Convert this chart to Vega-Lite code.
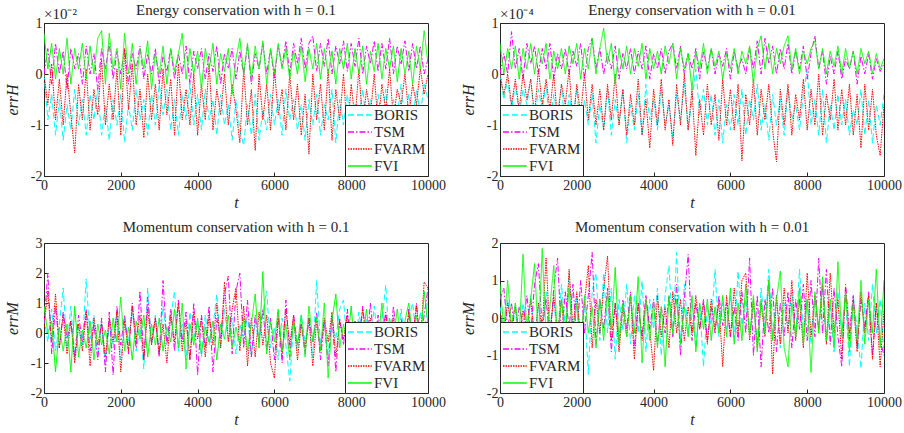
{
"$schema":"https://vega.github.io/schema/vega-lite/v6.json",
"padding":{"left":3,"top":2,"right":0,"bottom":0},
"background":"white",
"config":{
"view":{"stroke":"#262626","strokeWidth":1},
"font":"Liberation Serif, Times New Roman, serif",
"title":{"font":"Liberation Serif, Times New Roman, serif","fontSize":15,"fontWeight":"normal","color":"#262626","offset":4},
"axis":{"domain":false,"grid":false,"labelFont":"Liberation Serif, Times New Roman, serif","labelFontSize":14,"labelColor":"#262626","titleFont":"Liberation Serif, Times New Roman, serif","titleFontSize":16,"titleFontStyle":"italic","titleFontWeight":"normal","titleColor":"#262626","tickColor":"#262626","tickSize":-4},
"axisX":{"labelPadding":6,"labelFlush":false,"titlePadding":2},
"axisY":{"labelPadding":6,"titlePadding":10},
"legend":{"fillColor":"white","strokeColor":"#262626","padding":2,"symbolType":"M-1,0H2.4","symbolSize":196,"symbolStrokeWidth":1.5,"labelFont":"Liberation Serif, Times New Roman, serif","labelFontSize":15,"labelColor":"#262626","rowPadding":1,"labelOffset":11,"cornerRadius":0}
},
"datasets":{
"e1":[
{"t":0,"BORIS":0,"TSM":0,"FVARM":0,"FVI":0.8},
{"t":100,"BORIS":-0.9,"TSM":0.5,"FVARM":-0.6,"FVI":0.1},
{"t":200,"BORIS":-0.4,"TSM":-0.2,"FVARM":0.2,"FVI":0.6},
{"t":300,"BORIS":-1.2,"TSM":0.6,"FVARM":-0.9,"FVI":-0.1},
{"t":400,"BORIS":-0.5,"TSM":0.0,"FVARM":-0.1,"FVI":0.5},
{"t":500,"BORIS":-1.3,"TSM":0.45,"FVARM":-1.0,"FVI":0.0},
{"t":600,"BORIS":-0.6,"TSM":-0.3,"FVARM":0.0,"FVI":0.7},
{"t":700,"BORIS":-1.1,"TSM":0.5,"FVARM":-0.8,"FVI":-0.2},
{"t":800,"BORIS":-0.3,"TSM":0.1,"FVARM":-1.55,"FVI":0.5},
{"t":900,"BORIS":-1.0,"TSM":0.4,"FVARM":-0.2,"FVI":0.1},
{"t":1000,"BORIS":-0.5,"TSM":-0.2,"FVARM":-0.9,"FVI":0.6},
{"t":1100,"BORIS":-1.2,"TSM":0.55,"FVARM":0.1,"FVI":-0.1},
{"t":1200,"BORIS":-0.4,"TSM":0.0,"FVARM":-1.1,"FVI":0.55},
{"t":1300,"BORIS":-0.9,"TSM":0.4,"FVARM":-0.3,"FVI":0.0},
{"t":1400,"BORIS":-0.3,"TSM":-0.3,"FVARM":-0.8,"FVI":0.7},
{"t":1500,"BORIS":-1.2,"TSM":0.5,"FVARM":0.3,"FVI":0.85},
{"t":1600,"BORIS":-0.6,"TSM":0.1,"FVARM":-1.0,"FVI":-0.2},
{"t":1700,"BORIS":-1.3,"TSM":0.6,"FVARM":-0.2,"FVI":0.8},
{"t":1800,"BORIS":-0.5,"TSM":-0.1,"FVARM":-0.9,"FVI":0.1},
{"t":1900,"BORIS":-1.0,"TSM":0.45,"FVARM":0.1,"FVI":0.5},
{"t":2000,"BORIS":-0.4,"TSM":0.0,"FVARM":-1.2,"FVI":-0.3},
{"t":2100,"BORIS":-1.35,"TSM":0.5,"FVARM":0.5,"FVI":0.8},
{"t":2200,"BORIS":-0.6,"TSM":-0.2,"FVARM":-0.7,"FVI":0.0},
{"t":2300,"BORIS":-1.1,"TSM":0.4,"FVARM":0.2,"FVI":0.6},
{"t":2400,"BORIS":-0.3,"TSM":0.1,"FVARM":-1.0,"FVI":-0.2},
{"t":2500,"BORIS":-0.9,"TSM":0.55,"FVARM":-0.3,"FVI":0.5},
{"t":2600,"BORIS":-0.5,"TSM":-0.1,"FVARM":-1.25,"FVI":0.1},
{"t":2700,"BORIS":-1.2,"TSM":0.4,"FVARM":0.0,"FVI":0.65},
{"t":2800,"BORIS":-0.4,"TSM":0.0,"FVARM":-0.9,"FVI":-0.3},
{"t":2900,"BORIS":-1.0,"TSM":0.5,"FVARM":-0.2,"FVI":0.4},
{"t":3000,"BORIS":-0.2,"TSM":-0.2,"FVARM":-1.1,"FVI":0.0},
{"t":3100,"BORIS":-0.8,"TSM":0.35,"FVARM":0.1,"FVI":0.55},
{"t":3200,"BORIS":-0.3,"TSM":0.05,"FVARM":-0.8,"FVI":-0.2},
{"t":3300,"BORIS":-1.1,"TSM":0.5,"FVARM":-0.1,"FVI":0.5},
{"t":3400,"BORIS":-0.5,"TSM":-0.1,"FVARM":-1.2,"FVI":0.05},
{"t":3500,"BORIS":-1.2,"TSM":0.4,"FVARM":0.2,"FVI":0.4},
{"t":3600,"BORIS":-0.4,"TSM":0.0,"FVARM":-0.9,"FVI":0.8},
{"t":3700,"BORIS":-0.9,"TSM":0.55,"FVARM":-0.3,"FVI":-0.1},
{"t":3800,"BORIS":-0.2,"TSM":-0.2,"FVARM":-1.0,"FVI":0.5},
{"t":3900,"BORIS":-1.0,"TSM":0.45,"FVARM":0.0,"FVI":0.0},
{"t":4000,"BORIS":-0.4,"TSM":0.1,"FVARM":-1.2,"FVI":0.45},
{"t":4100,"BORIS":-1.1,"TSM":0.5,"FVARM":-0.2,"FVI":-0.3},
{"t":4200,"BORIS":-0.3,"TSM":-0.1,"FVARM":-0.9,"FVI":0.5},
{"t":4300,"BORIS":-0.9,"TSM":0.4,"FVARM":0.2,"FVI":0.1},
{"t":4400,"BORIS":-0.5,"TSM":0.05,"FVARM":-1.1,"FVI":0.6},
{"t":4500,"BORIS":-1.2,"TSM":0.55,"FVARM":-0.3,"FVI":-0.2},
{"t":4600,"BORIS":-0.4,"TSM":-0.2,"FVARM":-0.8,"FVI":0.4},
{"t":4700,"BORIS":-1.0,"TSM":0.4,"FVARM":0.0,"FVI":0.05},
{"t":4800,"BORIS":-0.6,"TSM":0.1,"FVARM":-1.0,"FVI":0.5},
{"t":4900,"BORIS":-1.3,"TSM":0.5,"FVARM":-0.2,"FVI":-0.4},
{"t":5000,"BORIS":-0.5,"TSM":-0.1,"FVARM":-0.7,"FVI":0.3},
{"t":5100,"BORIS":-1.1,"TSM":0.45,"FVARM":-1.35,"FVI":0.7},
{"t":5200,"BORIS":-1.4,"TSM":0.0,"FVARM":0.1,"FVI":0.0},
{"t":5300,"BORIS":-0.6,"TSM":0.55,"FVARM":-1.0,"FVI":0.6},
{"t":5400,"BORIS":-1.2,"TSM":-0.2,"FVARM":-0.3,"FVI":-0.1},
{"t":5500,"BORIS":-0.4,"TSM":0.4,"FVARM":-1.5,"FVI":0.55},
{"t":5600,"BORIS":-1.3,"TSM":0.1,"FVARM":0.0,"FVI":0.1},
{"t":5700,"BORIS":-0.7,"TSM":0.6,"FVARM":-0.9,"FVI":0.65},
{"t":5800,"BORIS":-1.1,"TSM":0.0,"FVARM":-0.2,"FVI":-0.2},
{"t":5900,"BORIS":-0.4,"TSM":0.5,"FVARM":-1.1,"FVI":0.5},
{"t":6000,"BORIS":-1.0,"TSM":-0.1,"FVARM":0.1,"FVI":0.0},
{"t":6100,"BORIS":-0.5,"TSM":0.55,"FVARM":-0.8,"FVI":0.6},
{"t":6200,"BORIS":-1.2,"TSM":0.15,"FVARM":-0.3,"FVI":0.1},
{"t":6300,"BORIS":-0.3,"TSM":0.65,"FVARM":-1.1,"FVI":0.5},
{"t":6400,"BORIS":-0.9,"TSM":0.0,"FVARM":0.0,"FVI":-0.1},
{"t":6500,"BORIS":-0.5,"TSM":0.6,"FVARM":-0.9,"FVI":0.45},
{"t":6600,"BORIS":-1.1,"TSM":0.2,"FVARM":-0.2,"FVI":0.0},
{"t":6700,"BORIS":-0.6,"TSM":0.7,"FVARM":-1.2,"FVI":0.55},
{"t":6800,"BORIS":-1.3,"TSM":0.1,"FVARM":-0.4,"FVI":-0.15},
{"t":6900,"BORIS":-0.5,"TSM":0.6,"FVARM":-1.57,"FVI":0.5},
{"t":7000,"BORIS":-1.0,"TSM":0.75,"FVARM":0.0,"FVI":0.1},
{"t":7100,"BORIS":-0.4,"TSM":0.05,"FVARM":-0.9,"FVI":0.6},
{"t":7200,"BORIS":-1.2,"TSM":0.6,"FVARM":-0.2,"FVI":-0.1},
{"t":7300,"BORIS":-0.6,"TSM":0.15,"FVARM":-1.1,"FVI":0.5},
{"t":7400,"BORIS":-0.9,"TSM":0.7,"FVARM":0.1,"FVI":0.0},
{"t":7500,"BORIS":-0.3,"TSM":0.0,"FVARM":-1.3,"FVI":0.45},
{"t":7600,"BORIS":-1.35,"TSM":0.55,"FVARM":-0.3,"FVI":-0.2},
{"t":7700,"BORIS":-0.5,"TSM":0.2,"FVARM":-0.9,"FVI":0.5},
{"t":7800,"BORIS":-1.0,"TSM":0.65,"FVARM":0.0,"FVI":0.1},
{"t":7900,"BORIS":-0.4,"TSM":0.05,"FVARM":-1.2,"FVI":0.6},
{"t":8000,"BORIS":-1.1,"TSM":0.6,"FVARM":-0.2,"FVI":-0.1},
{"t":8100,"BORIS":-0.6,"TSM":0.15,"FVARM":-0.9,"FVI":0.5},
{"t":8200,"BORIS":-0.9,"TSM":0.7,"FVARM":0.1,"FVI":0.0},
{"t":8300,"BORIS":-0.3,"TSM":0.0,"FVARM":-1.0,"FVI":0.55},
{"t":8400,"BORIS":-1.0,"TSM":0.55,"FVARM":-0.3,"FVI":-0.2},
{"t":8500,"BORIS":-0.5,"TSM":0.2,"FVARM":-0.8,"FVI":0.45},
{"t":8600,"BORIS":-1.2,"TSM":0.65,"FVARM":0.0,"FVI":0.05},
{"t":8700,"BORIS":-0.4,"TSM":0.05,"FVARM":-1.0,"FVI":0.6},
{"t":8800,"BORIS":-0.9,"TSM":0.6,"FVARM":-0.2,"FVI":-0.1},
{"t":8900,"BORIS":-0.3,"TSM":0.1,"FVARM":-0.7,"FVI":0.5},
{"t":9000,"BORIS":-1.1,"TSM":0.7,"FVARM":0.1,"FVI":0.1},
{"t":9100,"BORIS":-0.5,"TSM":0.0,"FVARM":-0.9,"FVI":0.55},
{"t":9200,"BORIS":-0.8,"TSM":0.55,"FVARM":-0.3,"FVI":-0.15},
{"t":9300,"BORIS":-0.2,"TSM":0.2,"FVARM":-0.6,"FVI":0.5},
{"t":9400,"BORIS":-1.0,"TSM":0.65,"FVARM":0.0,"FVI":0.0},
{"t":9500,"BORIS":-0.4,"TSM":0.05,"FVARM":-0.8,"FVI":0.45},
{"t":9600,"BORIS":-0.9,"TSM":0.6,"FVARM":-0.2,"FVI":-0.2},
{"t":9700,"BORIS":-0.3,"TSM":0.1,"FVARM":-0.6,"FVI":0.55},
{"t":9800,"BORIS":-0.8,"TSM":0.55,"FVARM":0.1,"FVI":0.1},
{"t":9900,"BORIS":-0.2,"TSM":0.0,"FVARM":-0.4,"FVI":0.85},
{"t":10000,"BORIS":-0.5,"TSM":0.3,"FVARM":0.0,"FVI":0.2}
],
"e2":[
{"t":0,"BORIS":0,"TSM":0,"FVARM":0,"FVI":0.6},
{"t":100,"BORIS":-0.5,"TSM":0.4,"FVARM":-0.4,"FVI":0.0},
{"t":200,"BORIS":-0.1,"TSM":0.0,"FVARM":0.0,"FVI":0.5},
{"t":300,"BORIS":-0.7,"TSM":0.83,"FVARM":-0.6,"FVI":0.1},
{"t":400,"BORIS":-0.2,"TSM":0.1,"FVARM":-0.1,"FVI":0.55},
{"t":500,"BORIS":-0.8,"TSM":0.5,"FVARM":-0.7,"FVI":-0.1},
{"t":600,"BORIS":-0.3,"TSM":-0.1,"FVARM":0.0,"FVI":0.5},
{"t":700,"BORIS":-0.6,"TSM":0.6,"FVARM":-0.5,"FVI":0.1},
{"t":800,"BORIS":-0.1,"TSM":0.2,"FVARM":-0.1,"FVI":0.6},
{"t":900,"BORIS":-0.9,"TSM":0.55,"FVARM":-0.8,"FVI":0.0},
{"t":1000,"BORIS":-0.3,"TSM":0.0,"FVARM":0.1,"FVI":0.5},
{"t":1100,"BORIS":-0.7,"TSM":0.5,"FVARM":-0.6,"FVI":0.2},
{"t":1200,"BORIS":-0.2,"TSM":0.1,"FVARM":-0.1,"FVI":0.6},
{"t":1300,"BORIS":-1.0,"TSM":0.6,"FVARM":-0.7,"FVI":-0.1},
{"t":1400,"BORIS":-0.4,"TSM":-0.1,"FVARM":0.0,"FVI":0.45},
{"t":1500,"BORIS":-0.8,"TSM":0.4,"FVARM":-0.9,"FVI":0.1},
{"t":1600,"BORIS":-0.2,"TSM":0.1,"FVARM":-0.2,"FVI":0.5},
{"t":1700,"BORIS":-1.1,"TSM":0.5,"FVARM":-0.6,"FVI":0.0},
{"t":1800,"BORIS":-0.4,"TSM":0.0,"FVARM":0.1,"FVI":0.55},
{"t":1900,"BORIS":-0.9,"TSM":0.45,"FVARM":-1.0,"FVI":0.2},
{"t":2000,"BORIS":-0.3,"TSM":0.15,"FVARM":-0.2,"FVI":0.6},
{"t":2100,"BORIS":-1.2,"TSM":0.6,"FVARM":-0.8,"FVI":-0.1},
{"t":2200,"BORIS":-0.5,"TSM":-0.1,"FVARM":0.0,"FVI":0.5},
{"t":2300,"BORIS":-1.0,"TSM":0.5,"FVARM":-0.9,"FVI":0.1},
{"t":2400,"BORIS":-0.4,"TSM":0.7,"FVARM":-0.2,"FVI":0.7},
{"t":2500,"BORIS":-1.35,"TSM":0.1,"FVARM":-1.0,"FVI":0.0},
{"t":2600,"BORIS":-0.6,"TSM":0.5,"FVARM":-0.3,"FVI":0.5},
{"t":2700,"BORIS":-1.1,"TSM":0.0,"FVARM":-1.1,"FVI":0.9},
{"t":2800,"BORIS":-0.3,"TSM":0.4,"FVARM":-0.2,"FVI":0.2},
{"t":2900,"BORIS":-1.2,"TSM":0.1,"FVARM":-0.9,"FVI":0.6},
{"t":3000,"BORIS":-0.5,"TSM":0.55,"FVARM":0.0,"FVI":-0.2},
{"t":3100,"BORIS":-1.0,"TSM":-0.1,"FVARM":-1.0,"FVI":0.5},
{"t":3200,"BORIS":-0.3,"TSM":0.4,"FVARM":-0.3,"FVI":0.1},
{"t":3300,"BORIS":-1.35,"TSM":0.1,"FVARM":-1.2,"FVI":0.55},
{"t":3400,"BORIS":-0.6,"TSM":0.5,"FVARM":-0.4,"FVI":0.0},
{"t":3500,"BORIS":-1.1,"TSM":0.0,"FVARM":-1.0,"FVI":0.5},
{"t":3600,"BORIS":-0.4,"TSM":0.45,"FVARM":-0.1,"FVI":0.15},
{"t":3700,"BORIS":-1.2,"TSM":0.1,"FVARM":-1.2,"FVI":0.6},
{"t":3800,"BORIS":-0.2,"TSM":0.55,"FVARM":-0.5,"FVI":-0.1},
{"t":3900,"BORIS":-0.9,"TSM":-0.1,"FVARM":-1.45,"FVI":0.5},
{"t":4000,"BORIS":-0.5,"TSM":0.4,"FVARM":-0.3,"FVI":0.1},
{"t":4100,"BORIS":-1.1,"TSM":0.1,"FVARM":-1.0,"FVI":0.45},
{"t":4200,"BORIS":-0.3,"TSM":0.5,"FVARM":-0.1,"FVI":0.0},
{"t":4300,"BORIS":-1.0,"TSM":0.0,"FVARM":-1.1,"FVI":0.55},
{"t":4400,"BORIS":-0.6,"TSM":0.45,"FVARM":-0.5,"FVI":0.2},
{"t":4500,"BORIS":-1.25,"TSM":0.6,"FVARM":-1.4,"FVI":0.6},
{"t":4600,"BORIS":-0.4,"TSM":0.1,"FVARM":-0.2,"FVI":-0.1},
{"t":4700,"BORIS":-0.9,"TSM":0.55,"FVARM":-1.0,"FVI":0.5},
{"t":4800,"BORIS":-0.2,"TSM":0.0,"FVARM":0.0,"FVI":0.1},
{"t":4900,"BORIS":-1.1,"TSM":0.4,"FVARM":-1.1,"FVI":0.4},
{"t":5000,"BORIS":-0.5,"TSM":0.1,"FVARM":-0.3,"FVI":-0.3},
{"t":5100,"BORIS":0.1,"TSM":0.5,"FVARM":-1.6,"FVI":0.45},
{"t":5200,"BORIS":-0.8,"TSM":-0.1,"FVARM":-0.5,"FVI":0.1},
{"t":5300,"BORIS":-0.3,"TSM":0.45,"FVARM":-1.2,"FVI":0.6},
{"t":5400,"BORIS":-1.0,"TSM":0.1,"FVARM":-0.2,"FVI":0.0},
{"t":5500,"BORIS":-0.4,"TSM":0.5,"FVARM":-1.0,"FVI":0.5},
{"t":5600,"BORIS":-1.2,"TSM":0.0,"FVARM":-0.4,"FVI":0.15},
{"t":5700,"BORIS":-0.5,"TSM":0.4,"FVARM":-1.3,"FVI":0.45},
{"t":5800,"BORIS":-1.35,"TSM":0.15,"FVARM":-0.1,"FVI":-0.1},
{"t":5900,"BORIS":-0.6,"TSM":0.5,"FVARM":-1.0,"FVI":0.4},
{"t":6000,"BORIS":-1.1,"TSM":-0.1,"FVARM":-0.3,"FVI":0.1},
{"t":6100,"BORIS":-0.4,"TSM":0.45,"FVARM":-1.1,"FVI":0.5},
{"t":6200,"BORIS":-1.0,"TSM":0.1,"FVARM":-0.2,"FVI":0.0},
{"t":6300,"BORIS":-0.3,"TSM":0.3,"FVARM":-1.7,"FVI":0.45},
{"t":6400,"BORIS":-1.2,"TSM":0.0,"FVARM":-0.4,"FVI":0.2},
{"t":6500,"BORIS":-0.5,"TSM":0.5,"FVARM":-1.0,"FVI":0.55},
{"t":6600,"BORIS":-0.9,"TSM":0.1,"FVARM":-0.1,"FVI":-0.2},
{"t":6700,"BORIS":-0.2,"TSM":0.65,"FVARM":-1.2,"FVI":0.5},
{"t":6800,"BORIS":-1.1,"TSM":0.0,"FVARM":-0.3,"FVI":0.75},
{"t":6900,"BORIS":-0.6,"TSM":0.7,"FVARM":-0.9,"FVI":0.1},
{"t":7000,"BORIS":-1.3,"TSM":0.2,"FVARM":-0.2,"FVI":0.6},
{"t":7100,"BORIS":-0.4,"TSM":0.55,"FVARM":-1.1,"FVI":0.0},
{"t":7200,"BORIS":-1.0,"TSM":0.0,"FVARM":-1.72,"FVI":0.5},
{"t":7300,"BORIS":-0.5,"TSM":0.5,"FVARM":-0.3,"FVI":0.2},
{"t":7400,"BORIS":-1.2,"TSM":0.1,"FVARM":-1.0,"FVI":0.55},
{"t":7500,"BORIS":-0.3,"TSM":0.6,"FVARM":-0.2,"FVI":0.75},
{"t":7600,"BORIS":-0.9,"TSM":0.0,"FVARM":-1.2,"FVI":0.1},
{"t":7700,"BORIS":-0.6,"TSM":0.45,"FVARM":-0.4,"FVI":0.5},
{"t":7800,"BORIS":-1.1,"TSM":0.1,"FVARM":-0.9,"FVI":0.0},
{"t":7900,"BORIS":-0.4,"TSM":0.55,"FVARM":-0.1,"FVI":0.45},
{"t":8000,"BORIS":0.1,"TSM":-0.1,"FVARM":-1.1,"FVI":0.2},
{"t":8100,"BORIS":-1.0,"TSM":0.4,"FVARM":-0.3,"FVI":0.5},
{"t":8200,"BORIS":-0.5,"TSM":0.75,"FVARM":-1.0,"FVI":0.65},
{"t":8300,"BORIS":-1.2,"TSM":0.1,"FVARM":0.0,"FVI":0.1},
{"t":8400,"BORIS":-0.3,"TSM":0.45,"FVARM":-1.2,"FVI":0.5},
{"t":8500,"BORIS":-1.35,"TSM":-0.2,"FVARM":-0.4,"FVI":0.0},
{"t":8600,"BORIS":-0.6,"TSM":0.35,"FVARM":-0.9,"FVI":0.45},
{"t":8700,"BORIS":-1.1,"TSM":0.0,"FVARM":-0.1,"FVI":0.15},
{"t":8800,"BORIS":-0.4,"TSM":0.45,"FVARM":-1.1,"FVI":0.55},
{"t":8900,"BORIS":-1.0,"TSM":-0.1,"FVARM":-0.3,"FVI":0.0},
{"t":9000,"BORIS":-0.5,"TSM":0.3,"FVARM":-1.0,"FVI":0.5},
{"t":9100,"BORIS":-1.2,"TSM":0.1,"FVARM":-0.2,"FVI":0.1},
{"t":9200,"BORIS":-0.7,"TSM":0.45,"FVARM":-1.2,"FVI":0.45},
{"t":9300,"BORIS":-1.0,"TSM":-0.2,"FVARM":-0.4,"FVI":0.0},
{"t":9400,"BORIS":-0.3,"TSM":0.35,"FVARM":-1.45,"FVI":0.5},
{"t":9500,"BORIS":-1.2,"TSM":0.0,"FVARM":-0.2,"FVI":0.2},
{"t":9600,"BORIS":-0.5,"TSM":0.4,"FVARM":-1.1,"FVI":0.45},
{"t":9700,"BORIS":-1.35,"TSM":-0.1,"FVARM":-0.3,"FVI":0.0},
{"t":9800,"BORIS":-0.6,"TSM":0.3,"FVARM":-1.2,"FVI":0.4},
{"t":9900,"BORIS":-1.0,"TSM":0.05,"FVARM":-1.6,"FVI":0.1},
{"t":10000,"BORIS":-0.4,"TSM":0.2,"FVARM":-0.6,"FVI":0.3}
],
"m1":[
{"t":0,"BORIS":0.5,"TSM":0.3,"FVARM":0.2,"FVI":0.9},
{"t":100,"BORIS":-0.3,"TSM":2.0,"FVARM":1.4,"FVI":0.0},
{"t":200,"BORIS":0.8,"TSM":-0.7,"FVARM":-0.3,"FVI":0.4},
{"t":300,"BORIS":-0.6,"TSM":0.9,"FVARM":1.3,"FVI":-1.3},
{"t":400,"BORIS":0.3,"TSM":-0.5,"FVARM":-0.5,"FVI":0.2},
{"t":500,"BORIS":1.5,"TSM":0.7,"FVARM":0.6,"FVI":-0.6},
{"t":600,"BORIS":-0.5,"TSM":-0.2,"FVARM":-0.7,"FVI":0.3},
{"t":700,"BORIS":0.9,"TSM":0.4,"FVARM":0.4,"FVI":-1.3},
{"t":800,"BORIS":-0.9,"TSM":-0.8,"FVARM":-1.0,"FVI":0.9},
{"t":900,"BORIS":0.2,"TSM":0.6,"FVARM":0.3,"FVI":-0.8},
{"t":1000,"BORIS":-0.4,"TSM":-0.3,"FVARM":-0.6,"FVI":0.1},
{"t":1100,"BORIS":1.8,"TSM":0.8,"FVARM":0.7,"FVI":-0.5},
{"t":1200,"BORIS":-0.2,"TSM":-0.6,"FVARM":-1.1,"FVI":0.4},
{"t":1300,"BORIS":0.6,"TSM":0.3,"FVARM":0.5,"FVI":-0.9},
{"t":1400,"BORIS":-0.8,"TSM":-0.9,"FVARM":-0.4,"FVI":0.3},
{"t":1500,"BORIS":0.4,"TSM":0.5,"FVARM":0.3,"FVI":-0.4},
{"t":1600,"BORIS":-1.1,"TSM":-1.3,"FVARM":-0.8,"FVI":0.1},
{"t":1700,"BORIS":0.3,"TSM":0.7,"FVARM":0.5,"FVI":-0.7},
{"t":1800,"BORIS":-0.5,"TSM":-1.4,"FVARM":-0.3,"FVI":0.5},
{"t":1900,"BORIS":0.7,"TSM":0.9,"FVARM":0.7,"FVI":-0.3},
{"t":2000,"BORIS":-0.9,"TSM":-0.4,"FVARM":-1.3,"FVI":1.2},
{"t":2100,"BORIS":0.5,"TSM":0.6,"FVARM":0.4,"FVI":-0.6},
{"t":2200,"BORIS":-0.3,"TSM":-0.7,"FVARM":-0.6,"FVI":0.2},
{"t":2300,"BORIS":0.8,"TSM":1.0,"FVARM":0.9,"FVI":-0.9},
{"t":2400,"BORIS":-0.6,"TSM":-0.5,"FVARM":-0.2,"FVI":0.4},
{"t":2500,"BORIS":0.2,"TSM":1.4,"FVARM":0.6,"FVI":-0.2},
{"t":2600,"BORIS":-1.2,"TSM":-0.9,"FVARM":-0.9,"FVI":0.6},
{"t":2700,"BORIS":1.5,"TSM":1.2,"FVARM":0.8,"FVI":-0.8},
{"t":2800,"BORIS":-0.4,"TSM":-0.3,"FVARM":-0.4,"FVI":0.3},
{"t":2900,"BORIS":0.6,"TSM":0.5,"FVARM":0.5,"FVI":-0.4},
{"t":3000,"BORIS":-0.7,"TSM":-0.8,"FVARM":-0.7,"FVI":0.5},
{"t":3100,"BORIS":0.9,"TSM":1.75,"FVARM":0.3,"FVI":-0.6},
{"t":3200,"BORIS":-0.3,"TSM":-0.4,"FVARM":-1.0,"FVI":0.2},
{"t":3300,"BORIS":0.5,"TSM":0.8,"FVARM":0.6,"FVI":-0.3},
{"t":3400,"BORIS":1.4,"TSM":-0.6,"FVARM":-0.3,"FVI":0.8},
{"t":3500,"BORIS":-0.6,"TSM":1.1,"FVARM":1.0,"FVI":-0.5},
{"t":3600,"BORIS":0.3,"TSM":-0.3,"FVARM":-0.6,"FVI":1.0},
{"t":3700,"BORIS":-0.9,"TSM":0.7,"FVARM":0.4,"FVI":-1.2},
{"t":3800,"BORIS":0.7,"TSM":-0.9,"FVARM":-0.9,"FVI":0.3},
{"t":3900,"BORIS":-0.2,"TSM":1.0,"FVARM":0.7,"FVI":-0.4},
{"t":4000,"BORIS":0.4,"TSM":-1.4,"FVARM":-0.2,"FVI":0.5},
{"t":4100,"BORIS":-0.8,"TSM":0.6,"FVARM":0.5,"FVI":-0.7},
{"t":4200,"BORIS":0.6,"TSM":-0.5,"FVARM":-0.8,"FVI":0.2},
{"t":4300,"BORIS":-0.4,"TSM":0.9,"FVARM":0.6,"FVI":-0.3},
{"t":4400,"BORIS":0.2,"TSM":-1.3,"FVARM":-0.4,"FVI":0.4},
{"t":4500,"BORIS":1.3,"TSM":0.5,"FVARM":1.0,"FVI":-0.9},
{"t":4600,"BORIS":-0.5,"TSM":-0.2,"FVARM":-0.5,"FVI":0.3},
{"t":4700,"BORIS":0.8,"TSM":1.3,"FVARM":1.7,"FVI":-0.2},
{"t":4800,"BORIS":-0.3,"TSM":1.9,"FVARM":-0.3,"FVI":0.6},
{"t":4900,"BORIS":0.5,"TSM":-0.7,"FVARM":0.8,"FVI":-0.5},
{"t":5000,"BORIS":-0.7,"TSM":1.4,"FVARM":1.5,"FVI":0.2},
{"t":5100,"BORIS":0.3,"TSM":2.0,"FVARM":-0.6,"FVI":-0.4},
{"t":5200,"BORIS":-0.2,"TSM":-0.5,"FVARM":0.9,"FVI":0.5},
{"t":5300,"BORIS":0.6,"TSM":1.1,"FVARM":-1.1,"FVI":-0.6},
{"t":5400,"BORIS":-0.8,"TSM":-0.8,"FVARM":0.5,"FVI":0.3},
{"t":5500,"BORIS":0.4,"TSM":0.6,"FVARM":-0.8,"FVI":1.3},
{"t":5600,"BORIS":-0.3,"TSM":-0.3,"FVARM":0.7,"FVI":-0.5},
{"t":5700,"BORIS":0.7,"TSM":0.8,"FVARM":-0.4,"FVI":2.05},
{"t":5800,"BORIS":1.4,"TSM":-0.6,"FVARM":0.6,"FVI":-0.7},
{"t":5900,"BORIS":-0.5,"TSM":0.5,"FVARM":-1.0,"FVI":0.4},
{"t":6000,"BORIS":0.2,"TSM":-0.9,"FVARM":-1.5,"FVI":-0.3},
{"t":6100,"BORIS":-0.9,"TSM":0.7,"FVARM":0.5,"FVI":0.8},
{"t":6200,"BORIS":0.5,"TSM":-1.0,"FVARM":-0.7,"FVI":-0.6},
{"t":6300,"BORIS":-0.4,"TSM":1.1,"FVARM":0.8,"FVI":0.3},
{"t":6400,"BORIS":-1.6,"TSM":-0.8,"FVARM":-0.4,"FVI":-0.9},
{"t":6500,"BORIS":0.3,"TSM":0.6,"FVARM":0.6,"FVI":0.4},
{"t":6600,"BORIS":-0.6,"TSM":-0.4,"FVARM":-0.9,"FVI":-0.4},
{"t":6700,"BORIS":0.6,"TSM":0.3,"FVARM":0.3,"FVI":0.6},
{"t":6800,"BORIS":-0.3,"TSM":-0.7,"FVARM":-0.5,"FVI":-0.8},
{"t":6900,"BORIS":0.4,"TSM":0.5,"FVARM":0.5,"FVI":0.9},
{"t":7000,"BORIS":-0.8,"TSM":-0.3,"FVARM":-1.1,"FVI":-0.3},
{"t":7100,"BORIS":1.75,"TSM":0.7,"FVARM":0.4,"FVI":0.5},
{"t":7200,"BORIS":-0.4,"TSM":-0.9,"FVARM":-0.6,"FVI":-0.6},
{"t":7300,"BORIS":0.3,"TSM":0.4,"FVARM":0.5,"FVI":1.0},
{"t":7400,"BORIS":-0.7,"TSM":-1.1,"FVARM":-0.3,"FVI":-1.5},
{"t":7500,"BORIS":0.5,"TSM":0.6,"FVARM":0.7,"FVI":0.4},
{"t":7600,"BORIS":-0.2,"TSM":-1.3,"FVARM":-0.8,"FVI":1.3},
{"t":7700,"BORIS":0.8,"TSM":0.5,"FVARM":0.4,"FVI":-0.5},
{"t":7800,"BORIS":1.1,"TSM":-0.4,"FVARM":-0.2,"FVI":0.3},
{"t":7900,"BORIS":-0.5,"TSM":0.8,"FVARM":0.6,"FVI":-0.4},
{"t":8000,"BORIS":0.4,"TSM":-0.6,"FVARM":-0.5,"FVI":0.9},
{"t":8100,"BORIS":-0.6,"TSM":0.4,"FVARM":0.3,"FVI":-0.6},
{"t":8200,"BORIS":0.7,"TSM":-0.3,"FVARM":-0.4,"FVI":0.4},
{"t":8300,"BORIS":-0.2,"TSM":0.9,"FVARM":0.8,"FVI":-0.2},
{"t":8400,"BORIS":0.5,"TSM":-0.5,"FVARM":-0.2,"FVI":0.8},
{"t":8500,"BORIS":-0.4,"TSM":1.0,"FVARM":0.5,"FVI":-0.5},
{"t":8600,"BORIS":0.9,"TSM":-0.4,"FVARM":-0.6,"FVI":0.3},
{"t":8700,"BORIS":-0.3,"TSM":0.6,"FVARM":0.4,"FVI":-0.3},
{"t":8800,"BORIS":0.4,"TSM":-0.2,"FVARM":-0.3,"FVI":1.0},
{"t":8900,"BORIS":1.6,"TSM":0.7,"FVARM":0.6,"FVI":-0.4},
{"t":9000,"BORIS":-0.5,"TSM":-0.5,"FVARM":-0.2,"FVI":0.5},
{"t":9100,"BORIS":0.6,"TSM":0.9,"FVARM":0.5,"FVI":-0.2},
{"t":9200,"BORIS":-0.3,"TSM":-0.3,"FVARM":-0.4,"FVI":0.8},
{"t":9300,"BORIS":0.8,"TSM":0.5,"FVARM":0.3,"FVI":-0.3},
{"t":9400,"BORIS":-0.4,"TSM":-0.4,"FVARM":-0.5,"FVI":0.4},
{"t":9500,"BORIS":0.5,"TSM":0.8,"FVARM":0.7,"FVI":1.0},
{"t":9600,"BORIS":1.0,"TSM":-0.3,"FVARM":-0.2,"FVI":-0.2},
{"t":9700,"BORIS":-0.2,"TSM":1.0,"FVARM":0.9,"FVI":0.6},
{"t":9800,"BORIS":0.7,"TSM":-0.5,"FVARM":-0.3,"FVI":-0.5},
{"t":9900,"BORIS":-0.3,"TSM":0.6,"FVARM":1.7,"FVI":1.4},
{"t":10000,"BORIS":1.3,"TSM":1.5,"FVARM":1.5,"FVI":0.3}
],
"m2":[
{"t":0,"BORIS":0.3,"TSM":0.5,"FVARM":0.2,"FVI":0.9},
{"t":100,"BORIS":-0.4,"TSM":0.8,"FVARM":-0.4,"FVI":-0.3},
{"t":200,"BORIS":0.5,"TSM":-0.3,"FVARM":0.4,"FVI":1.0},
{"t":300,"BORIS":-0.3,"TSM":0.4,"FVARM":-0.2,"FVI":-0.2},
{"t":400,"BORIS":0.2,"TSM":-0.5,"FVARM":0.3,"FVI":0.4},
{"t":500,"BORIS":-0.6,"TSM":0.3,"FVARM":-0.5,"FVI":-0.5},
{"t":600,"BORIS":0.4,"TSM":-0.2,"FVARM":0.2,"FVI":1.7},
{"t":700,"BORIS":-0.2,"TSM":0.6,"FVARM":-0.3,"FVI":-0.4},
{"t":800,"BORIS":0.6,"TSM":-0.4,"FVARM":0.5,"FVI":0.5},
{"t":900,"BORIS":-0.5,"TSM":0.9,"FVARM":-0.6,"FVI":1.45},
{"t":1000,"BORIS":0.3,"TSM":1.45,"FVARM":0.4,"FVI":-0.6},
{"t":1100,"BORIS":-0.4,"TSM":-0.3,"FVARM":-0.3,"FVI":1.85},
{"t":1200,"BORIS":0.7,"TSM":0.5,"FVARM":1.6,"FVI":-0.5},
{"t":1300,"BORIS":-0.3,"TSM":-0.6,"FVARM":-0.5,"FVI":0.3},
{"t":1400,"BORIS":0.5,"TSM":0.8,"FVARM":0.6,"FVI":1.4},
{"t":1500,"BORIS":-0.6,"TSM":1.6,"FVARM":-0.4,"FVI":-0.7},
{"t":1600,"BORIS":0.9,"TSM":-0.5,"FVARM":0.5,"FVI":0.5},
{"t":1700,"BORIS":-0.2,"TSM":0.7,"FVARM":-0.7,"FVI":-0.4},
{"t":1800,"BORIS":1.2,"TSM":-0.3,"FVARM":1.3,"FVI":0.8},
{"t":1900,"BORIS":-0.5,"TSM":0.9,"FVARM":-0.3,"FVI":-0.6},
{"t":2000,"BORIS":0.6,"TSM":-0.6,"FVARM":0.7,"FVI":0.4},
{"t":2100,"BORIS":-0.8,"TSM":1.0,"FVARM":-0.6,"FVI":-0.9},
{"t":2200,"BORIS":0.4,"TSM":-0.4,"FVARM":0.4,"FVI":0.6},
{"t":2300,"BORIS":-1.5,"TSM":0.6,"FVARM":1.4,"FVI":-0.4},
{"t":2400,"BORIS":0.7,"TSM":1.75,"FVARM":-0.8,"FVI":0.3},
{"t":2500,"BORIS":1.2,"TSM":-0.7,"FVARM":0.5,"FVI":-0.8},
{"t":2600,"BORIS":-0.6,"TSM":0.5,"FVARM":-0.4,"FVI":0.5},
{"t":2700,"BORIS":1.2,"TSM":-0.3,"FVARM":0.8,"FVI":-0.6},
{"t":2800,"BORIS":-0.4,"TSM":0.8,"FVARM":1.65,"FVI":0.7},
{"t":2900,"BORIS":0.8,"TSM":-0.9,"FVARM":-0.6,"FVI":-0.3},
{"t":3000,"BORIS":-1.1,"TSM":0.4,"FVARM":0.4,"FVI":1.35},
{"t":3100,"BORIS":0.5,"TSM":-0.6,"FVARM":-0.9,"FVI":-0.7},
{"t":3200,"BORIS":-0.3,"TSM":0.5,"FVARM":0.3,"FVI":0.4},
{"t":3300,"BORIS":0.9,"TSM":-0.3,"FVARM":-0.5,"FVI":-0.5},
{"t":3400,"BORIS":-0.7,"TSM":0.7,"FVARM":0.6,"FVI":0.6},
{"t":3500,"BORIS":0.6,"TSM":-0.8,"FVARM":-1.1,"FVI":-0.4},
{"t":3600,"BORIS":-0.4,"TSM":0.4,"FVARM":0.4,"FVI":1.1},
{"t":3700,"BORIS":1.0,"TSM":-0.5,"FVARM":-0.6,"FVI":-1.2},
{"t":3800,"BORIS":-0.9,"TSM":0.6,"FVARM":0.5,"FVI":0.5},
{"t":3900,"BORIS":0.5,"TSM":-0.3,"FVARM":-0.3,"FVI":-0.6},
{"t":4000,"BORIS":-0.3,"TSM":0.5,"FVARM":-1.4,"FVI":0.4},
{"t":4100,"BORIS":0.8,"TSM":-0.7,"FVARM":0.6,"FVI":-0.8},
{"t":4200,"BORIS":-1.0,"TSM":0.3,"FVARM":-0.5,"FVI":0.3},
{"t":4300,"BORIS":0.6,"TSM":-0.4,"FVARM":0.3,"FVI":-1.3},
{"t":4400,"BORIS":1.4,"TSM":0.6,"FVARM":-0.8,"FVI":0.6},
{"t":4500,"BORIS":-0.5,"TSM":-0.5,"FVARM":0.7,"FVI":-0.4},
{"t":4600,"BORIS":1.75,"TSM":0.9,"FVARM":-0.4,"FVI":0.5},
{"t":4700,"BORIS":-0.7,"TSM":-1.0,"FVARM":0.5,"FVI":-0.7},
{"t":4800,"BORIS":0.9,"TSM":0.5,"FVARM":-0.6,"FVI":0.3},
{"t":4900,"BORIS":-0.4,"TSM":1.7,"FVARM":0.3,"FVI":-0.5},
{"t":5000,"BORIS":0.5,"TSM":-0.6,"FVARM":-0.4,"FVI":0.6},
{"t":5100,"BORIS":-0.8,"TSM":0.4,"FVARM":0.6,"FVI":-0.9},
{"t":5200,"BORIS":0.4,"TSM":-0.3,"FVARM":-0.3,"FVI":0.4},
{"t":5300,"BORIS":-1.3,"TSM":0.5,"FVARM":0.4,"FVI":-0.3},
{"t":5400,"BORIS":0.3,"TSM":-0.6,"FVARM":-0.7,"FVI":0.5},
{"t":5500,"BORIS":-0.2,"TSM":0.3,"FVARM":0.5,"FVI":-0.6},
{"t":5600,"BORIS":1.3,"TSM":-0.4,"FVARM":-0.3,"FVI":0.3},
{"t":5700,"BORIS":-0.5,"TSM":0.6,"FVARM":0.4,"FVI":-0.4},
{"t":5800,"BORIS":0.4,"TSM":-0.2,"FVARM":-1.3,"FVI":0.6},
{"t":5900,"BORIS":-0.3,"TSM":0.4,"FVARM":0.6,"FVI":-0.5},
{"t":6000,"BORIS":0.6,"TSM":-0.5,"FVARM":-0.5,"FVI":0.8},
{"t":6100,"BORIS":-0.6,"TSM":0.3,"FVARM":0.8,"FVI":-0.7},
{"t":6200,"BORIS":1.25,"TSM":-0.6,"FVARM":-0.4,"FVI":0.4},
{"t":6300,"BORIS":-0.2,"TSM":0.7,"FVARM":1.0,"FVI":-0.6},
{"t":6400,"BORIS":0.5,"TSM":-0.4,"FVARM":1.2,"FVI":0.9},
{"t":6500,"BORIS":-0.4,"TSM":1.6,"FVARM":-0.6,"FVI":-0.5},
{"t":6600,"BORIS":0.3,"TSM":-1.0,"FVARM":0.5,"FVI":0.6},
{"t":6700,"BORIS":-0.6,"TSM":0.6,"FVARM":-0.8,"FVI":-0.9},
{"t":6800,"BORIS":0.8,"TSM":-1.3,"FVARM":0.4,"FVI":0.5},
{"t":6900,"BORIS":-0.3,"TSM":0.5,"FVARM":-0.5,"FVI":-0.4},
{"t":7000,"BORIS":1.3,"TSM":-0.4,"FVARM":1.0,"FVI":1.0},
{"t":7100,"BORIS":-0.5,"TSM":0.8,"FVARM":-1.5,"FVI":-0.6},
{"t":7200,"BORIS":0.6,"TSM":-0.9,"FVARM":0.6,"FVI":0.5},
{"t":7300,"BORIS":-0.8,"TSM":0.4,"FVARM":-0.7,"FVI":1.25},
{"t":7400,"BORIS":0.4,"TSM":-0.5,"FVARM":0.8,"FVI":-0.8},
{"t":7500,"BORIS":-0.3,"TSM":0.7,"FVARM":-0.4,"FVI":-1.3},
{"t":7600,"BORIS":0.7,"TSM":-0.8,"FVARM":1.0,"FVI":0.4},
{"t":7700,"BORIS":-0.5,"TSM":0.5,"FVARM":-0.6,"FVI":-0.5},
{"t":7800,"BORIS":1.3,"TSM":-0.3,"FVARM":0.5,"FVI":0.8},
{"t":7900,"BORIS":-0.4,"TSM":0.9,"FVARM":-0.8,"FVI":-0.7},
{"t":8000,"BORIS":0.5,"TSM":-0.6,"FVARM":1.2,"FVI":0.5},
{"t":8100,"BORIS":-0.7,"TSM":1.0,"FVARM":-0.5,"FVI":-1.45},
{"t":8200,"BORIS":0.6,"TSM":-0.5,"FVARM":0.6,"FVI":0.7},
{"t":8300,"BORIS":-0.3,"TSM":1.6,"FVARM":-0.3,"FVI":-0.4},
{"t":8400,"BORIS":0.8,"TSM":-0.4,"FVARM":0.9,"FVI":1.1},
{"t":8500,"BORIS":-0.6,"TSM":1.3,"FVARM":-0.7,"FVI":-0.6},
{"t":8600,"BORIS":0.4,"TSM":-0.7,"FVARM":1.2,"FVI":0.5},
{"t":8700,"BORIS":-0.9,"TSM":0.8,"FVARM":-0.4,"FVI":-0.8},
{"t":8800,"BORIS":0.7,"TSM":-0.5,"FVARM":0.5,"FVI":1.5},
{"t":8900,"BORIS":-0.4,"TSM":-1.3,"FVARM":-1.1,"FVI":-0.5},
{"t":9000,"BORIS":0.5,"TSM":0.9,"FVARM":0.8,"FVI":0.7},
{"t":9100,"BORIS":-1.3,"TSM":-0.4,"FVARM":-0.6,"FVI":-0.9},
{"t":9200,"BORIS":0.6,"TSM":0.6,"FVARM":0.5,"FVI":0.4},
{"t":9300,"BORIS":-0.3,"TSM":-0.8,"FVARM":-0.9,"FVI":-0.6},
{"t":9400,"BORIS":-1.35,"TSM":0.5,"FVARM":0.7,"FVI":1.0},
{"t":9500,"BORIS":0.4,"TSM":-0.3,"FVARM":-0.4,"FVI":-0.7},
{"t":9600,"BORIS":-0.6,"TSM":0.7,"FVARM":0.6,"FVI":0.5},
{"t":9700,"BORIS":0.9,"TSM":-1.0,"FVARM":-1.1,"FVI":-0.4},
{"t":9800,"BORIS":-0.4,"TSM":0.4,"FVARM":0.4,"FVI":1.3},
{"t":9900,"BORIS":0.5,"TSM":-0.6,"FVARM":-1.3,"FVI":-0.8},
{"t":10000,"BORIS":-0.9,"TSM":-1.0,"FVARM":0.2,"FVI":1.0}
]
},
"columns":2,
"spacing":{"row":67,"column":72},
"bounds":"flush",
"concat":[
{
"title":{"text":"Energy conservation with h = 0.1","offset":-11},
"width":384,"height":153,
"layer":[
{"data":{"name":"e1"},
"transform":[{"fold":["BORIS","TSM","FVARM","FVI"],"as":["method","value"]}],
"mark":{"type":"line","strokeWidth":1,"clip":true},
"encoding":{
"x":{"field":"t","type":"quantitative","scale":{"domain":[0,10000],"nice":false},"axis":{"title":"t","values":[0,2000,4000,6000,8000,10000],"format":"d"}},
"y":{"field":"value","type":"quantitative","scale":{"domain":[-2,1],"nice":false},"axis":{"title":"errH","values":[-2,-1,0,1],"format":"d","labelExpr":"replace(datum.label,'−','-')"}},
"color":{"field":"method","type":"nominal","sort":null,"scale":{"domain":["BORIS","TSM","FVARM","FVI"],"range":["#00FFFF","#FF00FF","#FF0000","#00FF00"]},"legend":{"title":null,"orient":"bottom-right","offset":0,"encode":{"symbols":{"update":{"strokeDash":{"signal":"datum.value==='BORIS'?[6,3]:datum.value==='TSM'?[6,2,1.5,2]:datum.value==='FVARM'?[1.5,1]:[1,0]"}}}}}},
"strokeDash":{"field":"method","type":"nominal","sort":null,"scale":{"domain":["BORIS","TSM","FVARM","FVI"],"range":[[6,3],[6,2,1.5,2],[1.5,1],[1,0]]},"legend":null}
}},
{"data":{"values":[{"t":0,"v":1,"label":"×10⁻²"}]},
"mark":{"type":"text","align":"left","baseline":"bottom","dy":-1,"fontSize":15,"font":"Liberation Serif, Times New Roman, serif","fill":"#262626"},
"encoding":{"x":{"field":"t","type":"quantitative"},"y":{"field":"v","type":"quantitative"},"text":{"field":"label"}}}
]
},
{
"title":{"text":"Energy conservation with h = 0.01","offset":-11},
"width":384,"height":153,
"layer":[
{"data":{"name":"e2"},
"transform":[{"fold":["BORIS","TSM","FVARM","FVI"],"as":["method","value"]}],
"mark":{"type":"line","strokeWidth":1,"clip":true},
"encoding":{
"x":{"field":"t","type":"quantitative","scale":{"domain":[0,10000],"nice":false},"axis":{"title":"t","values":[0,2000,4000,6000,8000,10000],"format":"d"}},
"y":{"field":"value","type":"quantitative","scale":{"domain":[-2,1],"nice":false},"axis":{"title":"errH","values":[-2,-1,0,1],"format":"d","labelExpr":"replace(datum.label,'−','-')"}},
"color":{"field":"method","type":"nominal","sort":null,"scale":{"domain":["BORIS","TSM","FVARM","FVI"],"range":["#00FFFF","#FF00FF","#FF0000","#00FF00"]},"legend":{"title":null,"orient":"bottom-left","offset":0,"encode":{"symbols":{"update":{"strokeDash":{"signal":"datum.value==='BORIS'?[6,3]:datum.value==='TSM'?[6,2,1.5,2]:datum.value==='FVARM'?[1.5,1]:[1,0]"}}}}}},
"strokeDash":{"field":"method","type":"nominal","sort":null,"scale":{"domain":["BORIS","TSM","FVARM","FVI"],"range":[[6,3],[6,2,1.5,2],[1.5,1],[1,0]]},"legend":null}
}},
{"data":{"values":[{"t":0,"v":1,"label":"×10⁻⁴"}]},
"mark":{"type":"text","align":"left","baseline":"bottom","dy":-1,"fontSize":15,"font":"Liberation Serif, Times New Roman, serif","fill":"#262626"},
"encoding":{"x":{"field":"t","type":"quantitative"},"y":{"field":"v","type":"quantitative"},"text":{"field":"label"}}}
]
},
{
"title":{"text":"Momentum conservation with h = 0.1","offset":1},
"width":384,"height":150,
"data":{"name":"m1"},
"transform":[{"fold":["BORIS","TSM","FVARM","FVI"],"as":["method","value"]}],
"mark":{"type":"line","strokeWidth":1,"clip":true},
"encoding":{
"x":{"field":"t","type":"quantitative","scale":{"domain":[0,10000],"nice":false},"axis":{"title":"t","values":[0,2000,4000,6000,8000,10000],"format":"d"}},
"y":{"field":"value","type":"quantitative","scale":{"domain":[-2,3],"nice":false},"axis":{"title":"errM","values":[-2,-1,0,1,2,3],"format":"d","labelExpr":"replace(datum.label,'−','-')"}},
"color":{"field":"method","type":"nominal","sort":null,"scale":{"domain":["BORIS","TSM","FVARM","FVI"],"range":["#00FFFF","#FF00FF","#FF0000","#00FF00"]},"legend":{"title":null,"orient":"bottom-right","offset":0,"encode":{"symbols":{"update":{"strokeDash":{"signal":"datum.value==='BORIS'?[6,3]:datum.value==='TSM'?[6,2,1.5,2]:datum.value==='FVARM'?[1.5,1]:[1,0]"}}}}}},
"strokeDash":{"field":"method","type":"nominal","sort":null,"scale":{"domain":["BORIS","TSM","FVARM","FVI"],"range":[[6,3],[6,2,1.5,2],[1.5,1],[1,0]]},"legend":null}
}
},
{
"title":{"text":"Momentum conservation with h = 0.01","offset":1},
"width":384,"height":150,
"data":{"name":"m2"},
"transform":[{"fold":["BORIS","TSM","FVARM","FVI"],"as":["method","value"]}],
"mark":{"type":"line","strokeWidth":1,"clip":true},
"encoding":{
"x":{"field":"t","type":"quantitative","scale":{"domain":[0,10000],"nice":false},"axis":{"title":"t","values":[0,2000,4000,6000,8000,10000],"format":"d"}},
"y":{"field":"value","type":"quantitative","scale":{"domain":[-2,2],"nice":false},"axis":{"title":"errM","values":[-2,-1,0,1,2],"format":"d","labelExpr":"replace(datum.label,'−','-')"}},
"color":{"field":"method","type":"nominal","sort":null,"scale":{"domain":["BORIS","TSM","FVARM","FVI"],"range":["#00FFFF","#FF00FF","#FF0000","#00FF00"]},"legend":{"title":null,"orient":"bottom-left","offset":0,"encode":{"symbols":{"update":{"strokeDash":{"signal":"datum.value==='BORIS'?[6,3]:datum.value==='TSM'?[6,2,1.5,2]:datum.value==='FVARM'?[1.5,1]:[1,0]"}}}}}},
"strokeDash":{"field":"method","type":"nominal","sort":null,"scale":{"domain":["BORIS","TSM","FVARM","FVI"],"range":[[6,3],[6,2,1.5,2],[1.5,1],[1,0]]},"legend":null}
}
}
]
}
